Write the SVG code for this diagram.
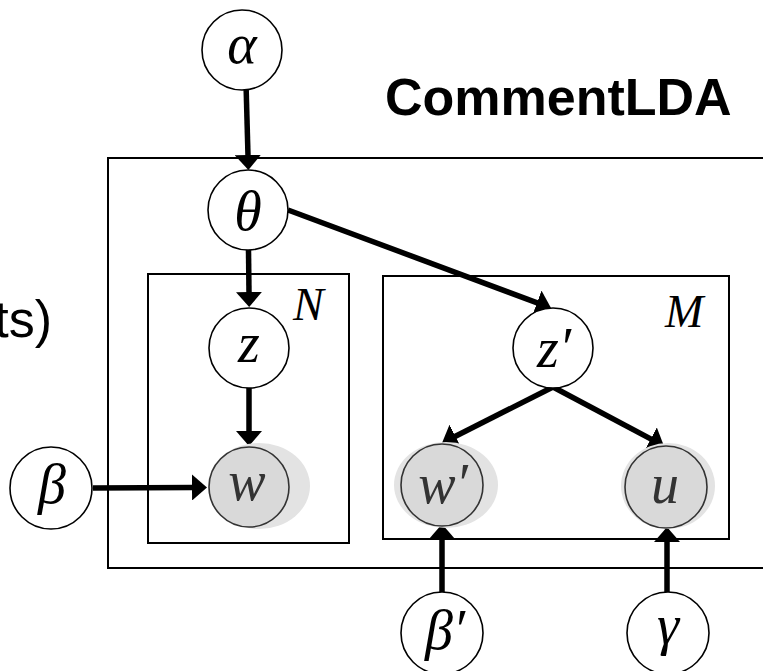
<svg xmlns="http://www.w3.org/2000/svg" width="763" height="671" viewBox="0 0 763 671">
  <style>
    .node { fill: #ffffff; stroke: #000000; stroke-width: 1.6; }
    .obs { fill: #d9d9d9; stroke: #333333; stroke-width: 1.6; }
    .halo { fill: #e3e3e3; stroke: none; }
    .sym { font-family: "Liberation Serif", "DejaVu Serif", serif; font-style: italic; font-size: 56px; fill: #000000; text-anchor: middle; }
    .sym-obs { fill: #333333; }
    .plate { fill: none; stroke: #000000; stroke-width: 2; }
    .plate-label { font-family: "Liberation Serif", "DejaVu Serif", serif; font-style: italic; font-size: 46px; fill: #000000; }
    .edge { fill: none; stroke: #000000; stroke-width: 5.5; }
    .title { font-family: "Liberation Sans", Arial, sans-serif; font-weight: bold; font-size: 52px; fill: #000000; }
    .side { font-family: "Liberation Sans", Arial, sans-serif; font-size: 52px; fill: #000000; }
  </style>
  <defs>
    <marker id="arrow" viewBox="0 0 15 26" refX="1" refY="13" markerWidth="15" markerHeight="26" markerUnits="userSpaceOnUse" orient="auto">
      <path d="M0,0 L15,13 L0,26 Z" fill="#000000"/>
    </marker>
  </defs>
  <rect width="763" height="671" fill="#ffffff"/>

  <!-- titles -->
  <text class="title" x="385" y="115">CommentLDA</text>
  <text class="side" x="52" y="337" text-anchor="end">ts)</text>

  <!-- plates -->
  <g id="plate-outer">
    <path class="plate" d="M763,158 H108 V568 H763"/>
  </g>
  <g id="plate-N">
    <rect class="plate" x="148" y="274" width="201" height="269"/>
    <text class="plate-label" x="293" y="320">N</text>
  </g>
  <g id="plate-M">
    <rect class="plate" x="383" y="276" width="346" height="263"/>
    <text class="plate-label" x="665" y="327">M</text>
  </g>

  <!-- connectors -->
  <g id="edges">
    <line class="edge" x1="245.5" y1="65" x2="248" y2="156" marker-end="url(#arrow)"/>
    <line class="edge" x1="248.5" y1="250" x2="249" y2="293" marker-end="url(#arrow)"/>
    <line class="edge" x1="249" y1="388" x2="249" y2="432" marker-end="url(#arrow)"/>
    <line class="edge" x1="93" y1="488" x2="193" y2="487.5" marker-end="url(#arrow)"/>
    <line class="edge" x1="288" y1="210" x2="537.9" y2="303.1" marker-end="url(#arrow)"/>
    <line class="edge" x1="553" y1="387" x2="454.5" y2="436.7" marker-end="url(#arrow)"/>
    <line class="edge" x1="553" y1="387" x2="651.6" y2="439.4" marker-end="url(#arrow)"/>
    <line class="edge" x1="442" y1="593" x2="442" y2="538" marker-end="url(#arrow)"/>
    <line class="edge" x1="667" y1="593" x2="667" y2="541" marker-end="url(#arrow)"/>
  </g>

  <!-- nodes -->
  <g id="node-alpha">
    <circle class="node" cx="242" cy="50" r="40"/>
    <text class="sym" x="242" y="63">α</text>
  </g>
  <g id="node-theta">
    <circle class="node" cx="248" cy="210" r="40"/>
    <text class="sym" x="248" y="230">θ</text>
  </g>
  <g id="node-z">
    <circle class="node" cx="249" cy="348" r="40"/>
    <text class="sym" x="249" y="362">z</text>
  </g>
  <g id="node-w">
    <ellipse class="halo" cx="259" cy="486" rx="51" ry="43"/>
    <circle class="obs" cx="249" cy="487" r="40"/>
    <text class="sym sym-obs" x="247" y="500">w</text>
  </g>
  <g id="node-beta">
    <circle class="node" cx="51" cy="488" r="41"/>
    <text class="sym" x="52" y="503">β</text>
  </g>
  <g id="node-zprime">
    <circle class="node" cx="553" cy="348" r="40"/>
    <text class="sym" x="554" y="367">z′</text>
  </g>
  <g id="node-wprime">
    <ellipse class="halo" cx="446" cy="485" rx="52" ry="43"/>
    <circle class="obs" cx="442" cy="485" r="41"/>
    <text class="sym sym-obs" x="443" y="503">w′</text>
  </g>
  <g id="node-u">
    <ellipse class="halo" cx="668" cy="486" rx="47" ry="43"/>
    <circle class="obs" cx="666" cy="487" r="41"/>
    <text class="sym sym-obs" x="665" y="503">u</text>
  </g>
  <g id="node-betaprime">
    <circle class="node" cx="442" cy="633" r="41"/>
    <text class="sym" x="445" y="649">β′</text>
  </g>
  <g id="node-gamma">
    <circle class="node" cx="668" cy="633" r="41"/>
    <text class="sym" x="668" y="644">γ</text>
  </g>
</svg>
